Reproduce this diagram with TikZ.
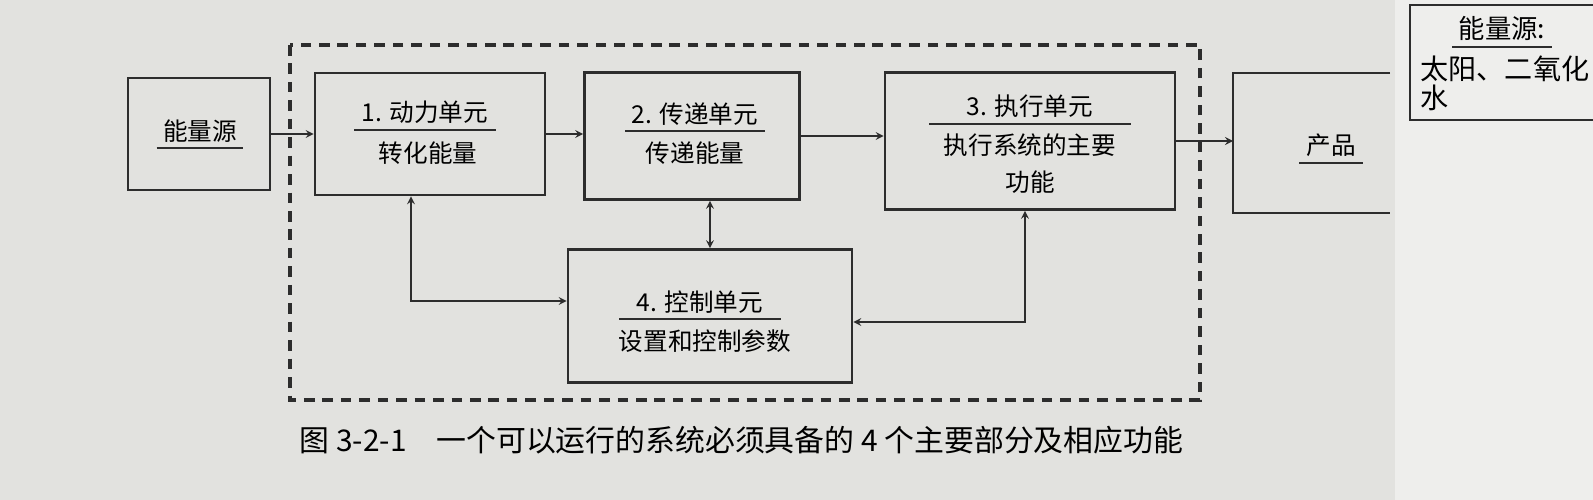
\documentclass[tikz,border=0pt]{standalone}
\usepackage{fontspec}
\setmainfont{Noto Sans CJK SC}
\definecolor{paper}{RGB}{226,226,223}
\definecolor{page}{RGB}{238,238,236}
\definecolor{ink}{RGB}{45,45,45}

\begin{document}
\begin{tikzpicture}
    [x=0.02cm,y=-0.02cm,>=stealth,thick,
     unit/.style={draw=ink,line width=1.5pt,rectangle},
     head/.style={anchor=south,inner ysep=3pt,font=\fontsize{14}{16}\selectfont},
     body/.style={align=center,font=\fontsize{14}{21}\selectfont},
     rulecol/.style={draw=ink,line width=1.2pt},
     link/.style={draw=ink,line width=1pt}]
    \useasboundingbox (0,0) rectangle (1593,500);
    \fill[paper] (0,0) rectangle (1395,500);
    \fill[page] (1395,0) rectangle (1593,500);

    %Nodes
    \node[unit,minimum width=2.84cm,minimum height=2.24cm] (src) at (199,134){};
    \node[unit,minimum width=4.6cm,minimum height=2.44cm] (u1) at (430,134){};
    \node[unit,minimum width=4.3cm,minimum height=2.54cm] (u2) at (692,136){};
    \node[unit,minimum width=5.8cm,minimum height=2.74cm] (u3) at (1030,141){};
    \node[unit,minimum width=5.68cm,minimum height=2.66cm] (u4) at (710,316){};
    \coordinate (out) at (1233,143);

    %Texts
    \node[head,minimum width=1.6cm] (tsrc) at (200,148){能量源};
    \node[head,minimum width=2.8cm] (t1) at (425,130){1. 动力单元};
    \node[body] (b1) at (428,153){转化能量};
    \node[head,minimum width=2.6cm] (t2) at (695,131){2. 传递单元};
    \node[body] (b2) at (695,153){传递能量};
    \node[head,minimum width=4cm] (t3) at (1030,124){3. 执行单元};
    \node[body] (b3) at (1030,164){执行系统的主要\\功能};
    \node[head,minimum width=3.2cm] (t4) at (700,319){4. 控制单元};
    \node[body] (b4) at (705,341){设置和控制参数};
    \node[head,minimum width=1.24cm] (tout) at (1331,163){产品};
    \node[head,minimum width=1.5cm,font=\fontsize{15}{17}\selectfont] (tnote) at (1502,47){能量源:};
    \node[anchor=west,font=\fontsize{16}{18}\selectfont] (n1) at (1414,69){太阳、二氧化};
    \node[anchor=west,font=\fontsize{16}{18}\selectfont] (n2) at (1414,98){水};
    \node[anchor=west,font=\fontsize{17}{19}\selectfont] (cap) at (293,440)
        {图 3-2-1\quad 一个可以运行的系统必须具备的 4 个主要部分及相应功能};

    \foreach \t in {tsrc,t1,t2,t3,t4,tout,tnote}
        \draw[rulecol] (\t.south west) -- (\t.south east);

    %Frames
    \draw[ink,line width=1.9pt,dash pattern=on 6pt off 4.5pt] (290,45) rectangle (1200,400);
    \draw[ink,line width=1.5pt] (1390,73) -- (out |- 0,73) -- (out |- 0,213) -- (1390,213);
    \draw[ink,line width=1.2pt] (1600,5) -- (1410,5) -- (1410,120) -- (1600,120);

    %Edges
    \coordinate (c1) at (411,301);
    \coordinate (c3) at (1025,322);
    \draw[link,->] (src.east) -- (src.east -| u1.west);
    \draw[link,->] (u1.east) -- (u1.east -| u2.west);
    \draw[link,->] (u2.east) -- (u2.east -| u3.west);
    \draw[link,->] (u3.east) -- (u3.east -| out);
    \draw[link,<->] (u4.north) -- (u4.north |- u2.south);
    \draw[link,<->] (u1.south -| c1) -- (c1) -- (c1 -| u4.west);
    \draw[link,<->] (u3.south -| c3) -- (c3) -- (c3 -| u4.east);

\end{tikzpicture}
\end{document}
